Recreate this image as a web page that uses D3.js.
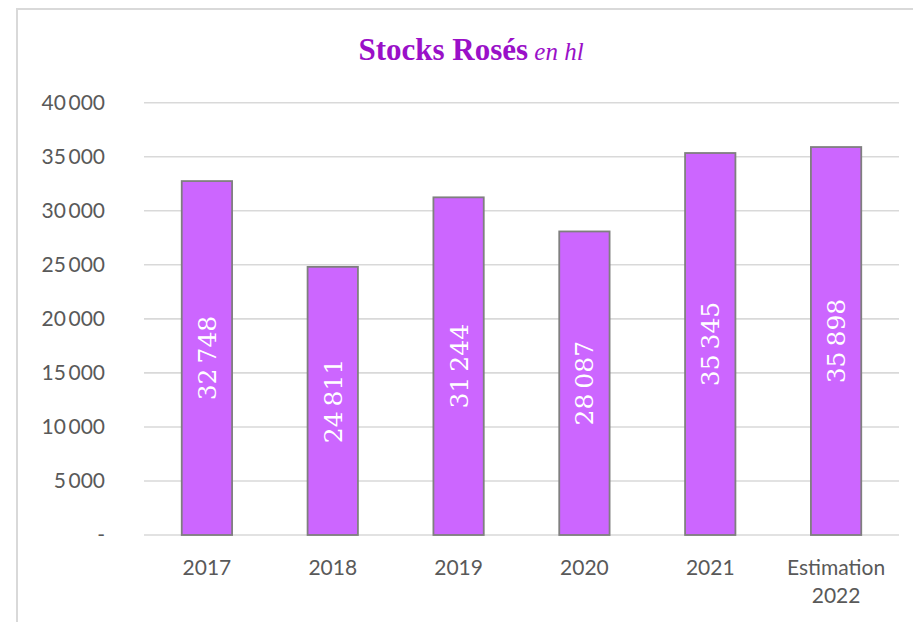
<!DOCTYPE html>
<html>
<head>
<meta charset="utf-8">
<script src="https://cdn.jsdelivr.net/npm/d3@7"></script>
<style>
  body { margin: 0; background: #fff; }
  .vlabel { font-family: "DejaVu Serif", serif; font-size: 25px; }
</style>
</head>
<body>
<script>
var categories = [["2017"], ["2018"], ["2019"], ["2020"], ["2021"], ["Estimation", "2022"]];
var stocks = [32748, 24811, 31244, 28087, 35345, 35898];
var yTicks = [0, 5000, 10000, 15000, 20000, 25000, 30000, 35000, 40000];

var W = 913, H = 622;
var margin = {top: 102.7, right: 14, bottom: 87, left: 144};
var width = W - margin.left - margin.right;
var height = H - margin.top - margin.bottom;

var svg = d3.select("body").append("svg")
    .attr("width", W)
    .attr("height", H);

// chart frame (only top and left edges visible)
svg.append("path")
    .attr("d", "M17,623 L17,9 L914,9")
    .attr("fill", "none")
    .attr("stroke", "#d9d9d9")
    .attr("stroke-width", 2);

// title
var title = svg.append("text")
    .attr("x", 471)
    .attr("y", 60)
    .attr("text-anchor", "middle")
    .attr("fill", "#9a10c8")
    .style("font-family", "'Liberation Serif', serif");
title.append("tspan")
    .attr("font-weight", "bold")
    .attr("font-size", 31)
    .text("Stocks Rosés");
title.append("tspan")
    .attr("font-style", "italic")
    .attr("font-size", 25)
    .text(" en hl");

var g = svg.append("g")
    .attr("transform", "translate(" + margin.left + "," + margin.top + ")");

var x = d3.scaleBand()
    .domain(d3.range(stocks.length))
    .range([0, width])
    .paddingInner(0.6)
    .paddingOuter(0.3);

var y = d3.scaleLinear()
    .domain([0, 40000])
    .range([height, 0]);

var fmt = function(v) {
  if (v === 0) return "-";
  return d3.format(",")(v).replace(/,/g, "\u2009");
};

// gridlines
g.append("g").selectAll("line")
    .data(yTicks)
  .enter().append("line")
    .attr("x1", 0)
    .attr("x2", width)
    .attr("y1", function(d) { return y(d); })
    .attr("y2", function(d) { return y(d); })
    .attr("stroke", "#d9d9d9")
    .attr("stroke-width", 1.6);

// y labels
g.append("g").selectAll("text")
    .data(yTicks)
  .enter().append("text")
    .attr("x", -39)
    .attr("y", function(d) { return y(d); })
    .attr("dy", "0.35em")
    .attr("text-anchor", "end")
    .attr("fill", "#595959")
    .style("font-family", "Lato, sans-serif")
    .style("font-size", "21px")
    .text(fmt);

// bars
g.append("g").selectAll("rect")
    .data(stocks)
  .enter().append("rect")
    .attr("x", function(d, i) { return x(i); })
    .attr("y", function(d) { return y(d); })
    .attr("width", x.bandwidth())
    .attr("height", function(d) { return height - y(d); })
    .attr("fill", "#cc66ff")
    .attr("stroke", "#7f7f7f")
    .attr("stroke-width", 1.8);

// value labels inside bars, rotated
g.append("g").selectAll("text")
    .data(stocks)
  .enter().append("text")
    .attr("class", "vlabel")
    .attr("transform", function(d, i) {
      var cx = x(i) + x.bandwidth() / 2;
      var cy = (y(d) + height) / 2;
      return "translate(" + cx + "," + cy + ") rotate(-90)";
    })
    .attr("text-anchor", "middle")
    .attr("dy", "0.36em")
    .attr("fill", "#ffffff")
    .text(function(d) { return d3.format(",")(d).replace(/,/g, "\u2009"); });

// category labels
var cat = g.append("g").selectAll("text")
    .data(categories)
  .enter().append("text")
    .attr("x", function(d, i) { return x(i) + x.bandwidth() / 2; })
    .attr("y", height + 40)
    .attr("text-anchor", "middle")
    .attr("fill", "#595959")
    .style("font-family", "Lato, sans-serif")
    .style("font-size", "21px");
cat.selectAll("tspan")
    .data(function(d) { return d; })
  .enter().append("tspan")
    .attr("x", function() { return d3.select(this.parentNode).attr("x"); })
    .attr("dy", function(d, i) { return i === 0 ? 0 : 28; })
    .text(function(d) { return d; });
</script>
</body>
</html>
